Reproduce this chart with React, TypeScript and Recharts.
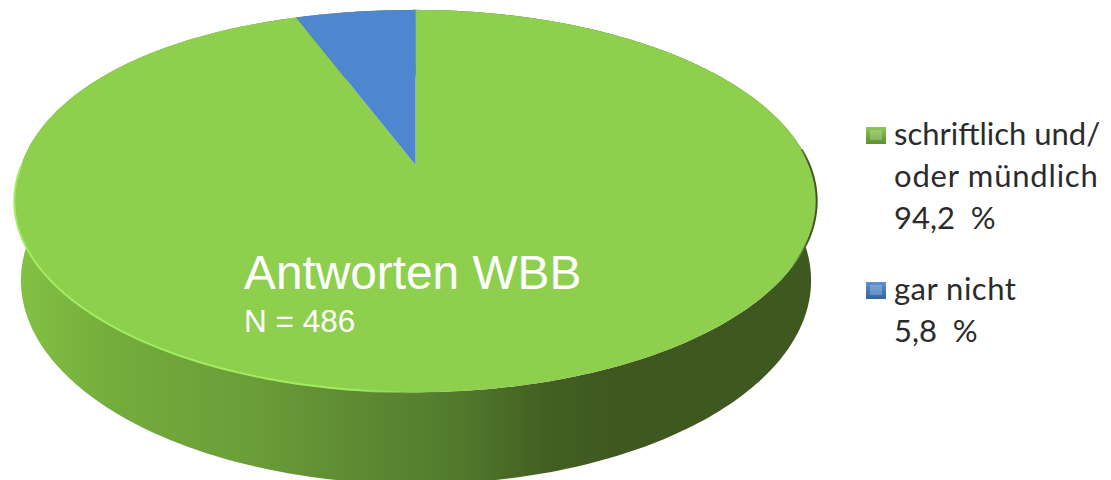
import React from 'react'
import { PieChart, Pie, Cell, Legend } from 'recharts'

const categories = ['schriftlich und/', 'gar nicht']
const categoryLines = [['oder mündlich'], []]
const percentLabels = ['94,2  %', '5,8  %']
const values = [94.2, 5.8]
const topColors = ['#8ecf4e', '#4f86d0']
const markerFills = ['url(#markerGreen)', 'url(#markerBlue)']

const title = 'Antworten WBB'
const subtitle = 'N = 486'

// perspective of the disc: the far rim is foreshortened, so the centre sits above the ellipse middle
const PERSPECTIVE = 0.1885
const TILT = 0.389
// the far-left rim in the picture bulges a little past a true ellipse
const LEFT_BULGE = 9

function ringPoint(cx: number, cy: number, r: number, deg: number) {
  const a = (deg * Math.PI) / 180
  const u = Math.cos(a)
  const v = Math.sin(a)
  const d = 1 + PERSPECTIVE * v
  const bulge = u < 0 && v > 0 ? LEFT_BULGE * u * u * Math.sqrt(v) : 0
  return [cx + (r * u) / d, (cy - r * TILT * v) / d - bulge] as const
}

function arcPoints(cx: number, cy: number, r: number, from: number, to: number) {
  const steps = Math.max(2, Math.ceil(Math.abs(to - from)))
  const pts: (readonly [number, number])[] = []
  for (let i = 0; i <= steps; i++) pts.push(ringPoint(cx, cy, r, from + ((to - from) * i) / steps))
  return pts
}

const toPath = (pts: (readonly [number, number])[]) =>
  pts.map((p, i) => `${i ? 'L' : 'M'}${p[0].toFixed(2)},${p[1].toFixed(2)}`).join(' ')

const TOP = { cx: 415.5, cy: 165, r: 394 }

function TopSector(props: any) {
  const { cx, cy, outerRadius, startAngle, endAngle, fill } = props
  const arc = arcPoints(cx, cy, outerRadius, startAngle, endAngle)
  const d = `M${cx},${cy} ${toPath(arc).replace('M', 'L')} Z`
  const showRim = Math.abs(startAngle - endAngle) > 180
  return (
    <g>
      <path d={d} fill={fill} stroke="none" />
      {showRim && (
        <path
          d={toPath(arcPoints(cx, cy, outerRadius, -180, 5))}
          fill="none"
          stroke="url(#rim)"
          strokeWidth={2}
        />
      )}
    </g>
  )
}

function WallSector(props: any) {
  const { cx, cy, outerRadius, startAngle, endAngle, fill } = props
  const upper = arcPoints(TOP.cx, TOP.cy, TOP.r, startAngle, endAngle)
  const lower = arcPoints(cx, cy, outerRadius, endAngle, startAngle)
  return <path d={`${toPath(upper)} ${toPath(lower).replace('M', 'L')} Z`} fill={fill} stroke="none" />
}

function LegendBlock({ payload }: any) {
  const seen = (payload ?? []).map((e: any) => e.value)
  const rows = categories.filter(c => seen.includes(c))
  return (
    <div style={{ fontFamily: 'Lato, sans-serif', fontSize: 31, lineHeight: '42px', color: '#2b2b2b' }}>
      {rows.map(name => {
        const i = categories.indexOf(name)
        return (
          <div key={name} style={{ position: 'relative', paddingLeft: 32, marginBottom: 29 }}>
            <svg width={20} height={17} style={{ position: 'absolute', left: 4, top: 15 }}>
              <rect width={20} height={17} fill={markerFills[i]} />
              <rect x={4} y={3} width={12} height={10} fill="#fff" opacity={0.22} />
            </svg>
            <div style={{ letterSpacing: i === 1 ? 0.5 : 0 }}>{name}</div>
            {categoryLines[i].map(line => (
              <div key={line} style={{ letterSpacing: 0.8 }}>{line}</div>
            ))}
            <div style={{ whiteSpace: 'pre' }}>{percentLabels[i]}</div>
          </div>
        )
      })}
    </div>
  )
}

export default function App() {
  const data = categories.map((name, i) => ({ name, value: values[i] }))

  return (
    <div style={{ position: 'absolute', left: 0, top: 0, width: 1111, height: 480, overflow: 'hidden', background: '#fff' }}>
      <PieChart width={1111} height={480} margin={{ top: 0, right: 0, bottom: 0, left: 0 }}>
        <defs>
          <linearGradient id="wall" gradientUnits="userSpaceOnUse" x1={14} y1={0} x2={817} y2={0}>
            <stop offset="0" stopColor="#84c245" />
            <stop offset="0.12" stopColor="#74ad3c" />
            <stop offset="0.3" stopColor="#6a9d39" />
            <stop offset="0.42" stopColor="#5f8b33" />
            <stop offset="0.55" stopColor="#527a2c" />
            <stop offset="0.66" stopColor="#436022" />
            <stop offset="0.75" stopColor="#3e5820" />
            <stop offset="1" stopColor="#3e5820" />
          </linearGradient>
          <linearGradient id="rim" gradientUnits="userSpaceOnUse" x1={14} y1={0} x2={817} y2={0}>
            <stop offset="0" stopColor="#a2ec62" />
            <stop offset="0.42" stopColor="#a2ec62" />
            <stop offset="0.54" stopColor="#8ecf4e" stopOpacity={0} />
            <stop offset="0.965" stopColor="#3e5820" stopOpacity={0} />
            <stop offset="0.99" stopColor="#3e5820" />
            <stop offset="1" stopColor="#3e5820" />
          </linearGradient>
          <linearGradient id="markerGreen" x1="0" y1="0" x2="0" y2="1">
            <stop offset="0" stopColor="#8cc850" />
            <stop offset="1" stopColor="#5d8f30" />
          </linearGradient>
          <linearGradient id="markerBlue" x1="0" y1="0" x2="0" y2="1">
            <stop offset="0" stopColor="#5f92d4" />
            <stop offset="1" stopColor="#34629f" />
          </linearGradient>
        </defs>
        <Pie
          data={data}
          dataKey="value"
          nameKey="name"
          cx={416}
          cy={242}
          outerRadius={388}
          startAngle={90}
          endAngle={-270}
          stroke="none"
          legendType="none"
          isAnimationActive={false}
          shape={WallSector}
        >
          {data.map(d => (
            <Cell key={d.name} fill="url(#wall)" />
          ))}
        </Pie>
        <Pie
          data={data}
          dataKey="value"
          nameKey="name"
          cx={TOP.cx}
          cy={TOP.cy}
          outerRadius={TOP.r}
          startAngle={90}
          endAngle={-270}
          stroke="none"
          isAnimationActive={false}
          shape={TopSector}
        >
          {data.map((d, i) => (
            <Cell key={d.name} fill={topColors[i]} />
          ))}
        </Pie>
        <Legend
          layout="vertical"
          align="right"
          verticalAlign="top"
          content={<LegendBlock />}
          wrapperStyle={{ left: 862, top: 112, width: 249 }}
        />
      </PieChart>
      {/* plain svg text gets painted under the pies when it is a chart child, so it sits on top here */}
      <svg width={1111} height={480} style={{ position: 'absolute', left: 0, top: 0, pointerEvents: 'none' }}>
        <text x={244} y={289} fill="#fff" fontFamily="Liberation Sans" fontSize={47.8}>{title}</text>
        <text x={244} y={332} fill="#fff" fontFamily="Liberation Sans" fontSize={31.5}>{subtitle}</text>
      </svg>
    </div>
  )
}
